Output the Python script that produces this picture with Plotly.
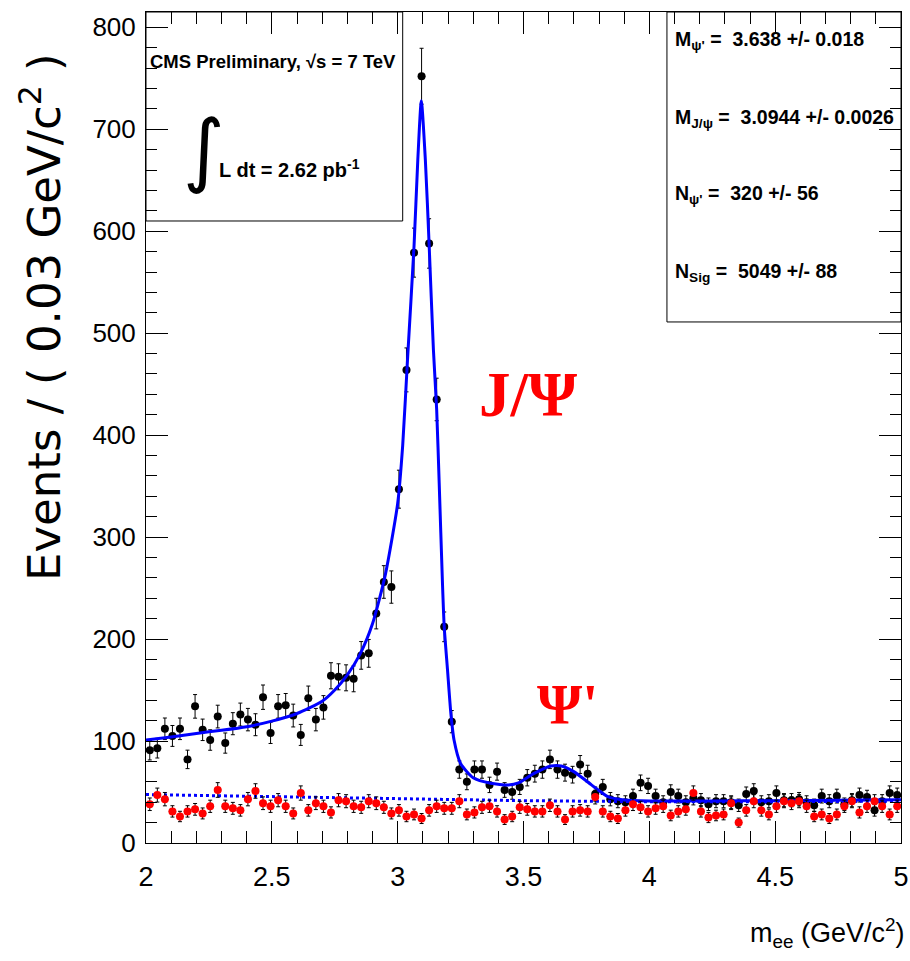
import numpy as np
import plotly.graph_objects as go

# ---- binning: 100 bins of 0.03 GeV/c^2 from 2 to 5 ----
bin_lo, bin_w, n_bins = 2.0, 0.03, 100
mass = [round(bin_lo + bin_w * (i + 0.5), 3) for i in range(n_bins)]

# opposite-sign (black) counts per bin
black = [91, 93, 112, 105, 112, 82, 134, 111, 101, 124, 98, 117, 126, 121, 116, 143, 108, 134, 135, 125,
         106, 142, 121, 133, 164, 163, 162, 161, 184, 186, 225, 256, 251, 347, 464, 579, 752, 588, 435, 212,
         119, 72, 60, 72, 72, 57, 70, 52, 50, 55, 64, 68, 72, 82, 72, 69, 67, 77, 68, 48,
         55, 43, 41, 40, 46, 59, 56, 46, 40, 50, 46, 40, 44, 42, 38, 41, 41, 40, 37, 48,
         51, 40, 41, 49, 42, 42, 43, 40, 37, 46, 41, 46, 38, 42, 47, 45, 32, 41, 49, 47]

# same-sign (red) counts per bin
red = [38, 47, 43, 31, 26, 31, 33, 29, 36, 52, 36, 34, 32, 43, 51, 39, 36, 42, 36, 29,
       49, 32, 39, 36, 30, 42, 41, 36, 35, 41, 39, 35, 29, 32, 26, 28, 24, 32, 36, 34,
       34, 41, 28, 30, 35, 36, 31, 23, 26, 35, 33, 31, 31, 37, 31, 23, 31, 32, 31, 45,
       31, 26, 24, 32, 38, 35, 31, 34, 36, 27, 31, 33, 49, 31, 25, 27, 28, 39, 20, 32,
       41, 32, 28, 36, 41, 39, 41, 36, 26, 28, 24, 28, 36, 41, 30, 36, 41, 36, 28, 36]

# fitted model
fit_x = [2.0, 2.1, 2.2, 2.3, 2.4, 2.5, 2.6, 2.7, 2.75, 2.8, 2.85, 2.9, 2.95, 3.0, 3.02, 3.04, 3.065,
         3.08, 3.094, 3.11, 3.125, 3.142, 3.155, 3.165, 3.178, 3.185, 3.198, 3.211, 3.224, 3.25, 3.3,
         3.37, 3.44, 3.48, 3.54, 3.61, 3.65, 3.7, 3.77, 3.835, 3.9, 4.0, 4.25, 4.5, 4.75, 5.0]
fit_y = [101, 104, 107.5, 110.5, 114, 119.5, 127, 139, 150, 165, 185, 215, 262, 333, 390, 478, 585,
         670, 728, 670, 587, 484, 425, 353, 255, 212, 170, 128, 101, 78, 64,
         58.6, 57, 59, 68, 75.5, 75.5, 70, 57, 45.5, 42.2, 41.2, 41.2, 41.5, 42, 42.5]

# background component (dotted)
bkg_x = [2.0, 2.5, 3.0, 3.5, 4.0, 4.5, 5.0]
bkg_y = [47.5, 45.8, 43.5, 41.5, 40.5, 40.5, 41.0]

x_ticks = [2, 2.5, 3, 3.5, 4, 4.5, 5]
x_ticklabels = ["2", "2.5", "3", "3.5", "4", "4.5", "5"]
y_ticks = [0, 100, 200, 300, 400, 500, 600, 700, 800]

SANS = "Liberation Sans, Arial, Helvetica, sans-serif"
SERIF = "Liberation Serif, Times New Roman, serif"

fig = go.Figure()

fig.add_trace(go.Scatter(
    x=mass, y=black, mode="markers",
    marker=dict(color="black", size=8),
    error_y=dict(type="data", array=list(np.sqrt(black)), color="black", thickness=1, width=2),
    error_x=dict(type="data", array=[bin_w / 2] * n_bins, color="#555555", thickness=1, width=0),
    showlegend=False))

fig.add_trace(go.Scatter(
    x=bkg_x, y=bkg_y, mode="lines", line=dict(color="blue", width=3, dash="dot"),
    showlegend=False))

fig.add_trace(go.Scatter(
    x=fit_x, y=fit_y, mode="lines", line=dict(color="blue", width=3, shape="spline", smoothing=0.6),
    showlegend=False))

fig.add_trace(go.Scatter(
    x=mass, y=red, mode="markers",
    marker=dict(color="red", size=8),
    error_y=dict(type="data", array=list(np.sqrt(red)), color="black", thickness=1, width=2),
    error_x=dict(type="data", array=[bin_w / 2] * n_bins, color="#555555", thickness=1, width=0),
    showlegend=False))

axis_common = dict(showline=True, linecolor="black", linewidth=1, mirror="ticks",
                   ticks="inside", tickcolor="black", showgrid=False, zeroline=False,
                   automargin=False)

fig.update_layout(
    width=910, height=961,
    margin=dict(l=146, r=9, t=12, b=118),
    paper_bgcolor="white", plot_bgcolor="white",
    xaxis=dict(range=[2, 5], tickvals=x_ticks, ticktext=x_ticklabels, ticklen=22, tickwidth=1,
               minor=dict(dtick=0.1, ticklen=12, ticks="inside", tickcolor="black", showgrid=False),
               tickfont=dict(family=SANS, size=27, color="black"), ticklabelstandoff=10,
               **axis_common),
    yaxis=dict(range=[0, 815], tickvals=y_ticks, ticklen=22, tickwidth=1,
               minor=dict(dtick=20, ticklen=11, ticks="inside", tickcolor="black", showgrid=False),
               tickfont=dict(family=SANS, size=26, color="black"), ticklabelstandoff=4,
               **axis_common),
    shapes=[
        dict(type="rect", xref="paper", yref="paper", x0=0, x1=0.340, y0=0.7485, y1=1,
             line=dict(color="black", width=1), fillcolor="white", layer="below"),
        dict(type="rect", xref="paper", yref="paper", x0=0.690, x1=1, y0=0.627, y1=1,
             line=dict(color="black", width=1), fillcolor="white", layer="below"),
    ],
)

def ann(text, x, y, size, family=SANS, color="black", xanchor="left", yanchor="middle", bold=True, **kw):
    fig.add_annotation(text=text, x=x, y=y, xref="paper", yref="paper", showarrow=False,
                       xanchor=xanchor, yanchor=yanchor,
                       font=dict(family=family, size=size, color=color, weight="bold" if bold else "normal"),
                       **kw)

ann("CMS Preliminary, √s = 7 TeV", 0.003, 0.941, 18.5)
ann("∫", 0.077, 0.834, 80, family="DejaVu Sans, sans-serif", xanchor="center", bold=False)
ann("L dt = 2.62 pb<sup>-1</sup>", 0.094, 0.812, 20)

ann("M<sub>ψ'</sub> =  3.638 +/- 0.018", 0.698, 0.966, 19.5)
ann("M<sub>J/ψ</sub> =  3.0944 +/- 0.0026", 0.698, 0.8724, 19.5)
ann("N<sub>ψ'</sub> =  320 +/- 56", 0.698, 0.7798, 19.5)
ann("N<sub>Sig</sub> =  5049 +/- 88", 0.698, 0.686, 19.5)

ann("J/Ψ", 0.506, 0.539, 63, family=SERIF, color="red", xanchor="center")
ann("Ψ'", 0.558, 0.167, 58, family=SERIF, color="red", xanchor="center")

ann("Events / ( 0.03 GeV/c<sup>2</sup> )", -0.1377, 0.633, 45, family="DejaVu Sans, sans-serif",
    xanchor="center", bold=False, textangle=-90)
ann("m<sub>ee</sub> (GeV/c<sup>2</sup>)", 1.0075, -0.108, 27, xanchor="right", bold=False)

fig.write_html("out.html")
